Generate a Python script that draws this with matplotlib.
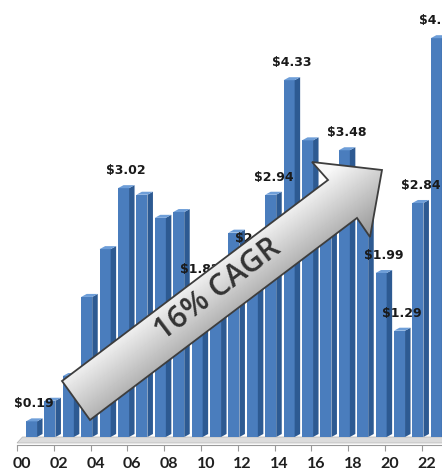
import numpy as np
import matplotlib
matplotlib.use("Agg")
import matplotlib.pyplot as plt
from matplotlib.patches import Polygon

# ---------------- data ----------------
years = list(range(2000, 2023))
values = [0.19, 0.44, 0.74, 1.70, 2.28, 3.02, 2.94, 2.66, 2.73, 1.82, 1.55,
          2.48, 2.20, 2.94, 4.33, 3.60, 3.00, 3.48, 2.80, 1.99, 1.29, 2.84, 4.84]
labeled_years = [2000, 2005, 2009, 2012, 2013, 2014, 2017, 2019, 2020, 2021, 2022]
tick_labels = ['00', '02', '04', '06', '08', '10', '12', '14', '16', '18', '20', '22']
arrow_text = '16% CAGR'

# ---------------- figure ----------------
W, H = 442, 472
fig = plt.figure(figsize=(W / 100, H / 100), dpi=100)
fig.patch.set_facecolor('white')

PX_X = 18.4      # pixels per category
PX_Y = 82.4      # pixels per $
bottom_px = 445  # spine position (from top)
zero_px = 437
ax = fig.add_axes([0, (H - bottom_px) / H, 1, bottom_px / H])
ax.set_xlim(-26 / PX_X, (W - 26) / PX_X)
ax.set_ylim(-(bottom_px - zero_px) / PX_Y, zero_px / PX_Y)
ax.set_facecolor('none')

idx = np.arange(len(years))
w = 0.6
dx = 5.5 / PX_X
dy = 3.0 / PX_Y

front = '#4a7dbd'
side = '#2d5a92'
top = '#6e9ed8'

# floor slab
x0f, x1f = -0.49, len(years) + 1
fl = -(443 - zero_px) / PX_Y
ax.add_patch(Polygon([(x0f, fl), (x1f, fl), (x1f + dx, 0.0), (x0f + dx, 0.0)],
                     closed=True, facecolor='#dcdcdc', edgecolor='#b5b5b5', lw=0.5, zorder=1))

bars = ax.bar(idx, values, width=w, align='edge', color=front, edgecolor='none', zorder=3)
for b in bars:
    x = b.get_x(); h = b.get_height()
    ax.add_patch(Polygon([(x + w, 0), (x + w + dx, dy), (x + w + dx, h + dy), (x + w, h)],
                         closed=True, facecolor=side, edgecolor='none', zorder=3))
    ax.add_patch(Polygon([(x, h), (x + w, h), (x + w + dx, h + dy), (x + dx, h + dy)],
                         closed=True, facecolor=top, edgecolor='none', zorder=3))

for yr, v in zip(years, values):
    if yr in labeled_years:
        i = years.index(yr)
        ax.text(i + (w + dx) / 2, v + 14 / PX_Y, f'${v:.2f}', ha='center', va='baseline',
                fontsize=9, fontweight='bold', family='DejaVu Sans', color='#1a1a1a', zorder=4)

# axes styling
for s in ['left', 'right', 'top']:
    ax.spines[s].set_visible(False)
ax.spines['bottom'].set_color('#999999')
ax.spines['bottom'].set_bounds(-0.49, len(years) + 1)
ax.set_yticks([])
major = [i - 0.49 for i in range(0, len(years), 2)]
ax.set_xticks(major)
ax.set_xticklabels([])
ax.tick_params(axis='x', which='major', length=4.5, color='#999999', direction='out')
ax.set_xticks([i - 0.22 for i in range(0, len(years), 2)], minor=True)
ax.set_xticklabels(tick_labels, minor=True)
ax.tick_params(axis='x', which='minor', length=0, pad=9, labelsize=11.5, labelcolor='#1f1f1f')
for t in ax.get_xticklabels(minor=True):
    t.set_fontweight('bold')
    t.set_family('Lato')

# ---------------- arrow overlay (pixel coords) ----------------
ax2 = fig.add_axes([0, 0, 1, 1], zorder=10)
ax2.set_xlim(0, W); ax2.set_ylim(H, 0)
ax2.axis('off')
ax2.patch.set_alpha(0)

pts = [(62, 381), (328, 180), (312, 162), (382, 170), (370, 237), (357, 218), (90, 420)]
poly = Polygon(pts, closed=True, facecolor='none', edgecolor='#3d3d3d', lw=1.3, zorder=5)

gx0, gx1, gy0, gy1 = 50, 400, 150, 430
xx, yy = np.meshgrid(np.linspace(gx0, gx1, 350), np.linspace(gy0, gy1, 280))
s = (xx - 76) * 0.603 + (yy - 400) * 0.798
val = np.clip(0.97 - (s + 30) / 60 * 0.30, 0.62, 0.97)
img = ax2.imshow(val, extent=(gx0, gx1, gy1, gy0), origin='upper', cmap='gray',
                 vmin=0, vmax=1, zorder=4, interpolation='bilinear', aspect='auto')
clip = Polygon(pts, closed=True, transform=ax2.transData)
img.set_clip_path(clip)
ax2.add_patch(poly)
ax2.set_xlim(0, W); ax2.set_ylim(H, 0)

ax2.text(218, 290, arrow_text, rotation=37, rotation_mode='anchor', ha='center', va='center',
         fontsize=22, family='Open Sans', fontweight='semibold', color='#333333', zorder=6)

fig.savefig('out.png', dpi=100)
